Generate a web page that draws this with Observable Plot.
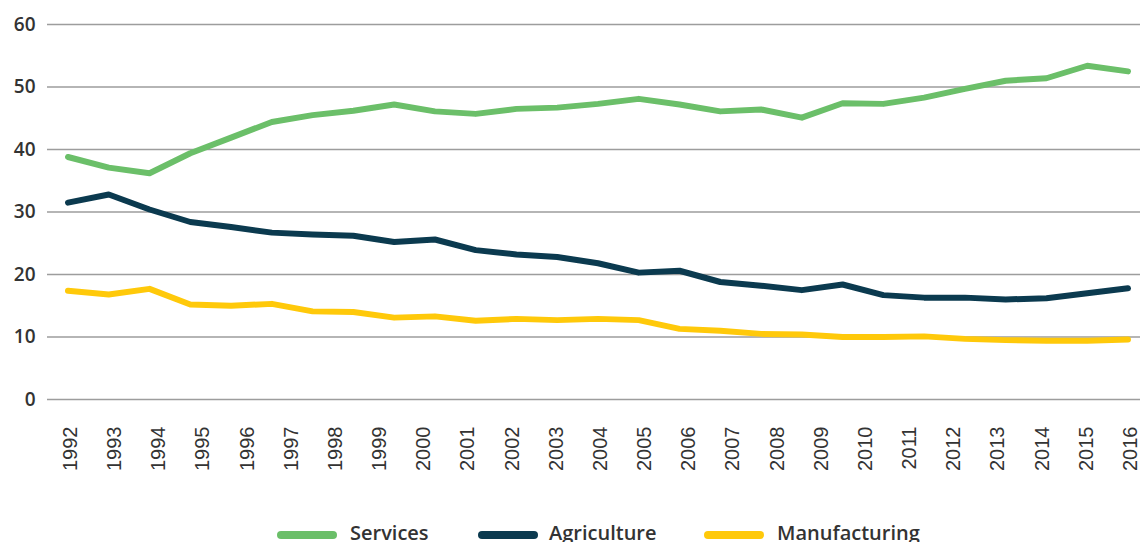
<!DOCTYPE html>
<html>
<head>
<meta charset="utf-8">
<script src="https://cdn.jsdelivr.net/npm/d3@7"></script>
<script src="https://cdn.jsdelivr.net/npm/@observablehq/plot@0.6"></script>
<style>
  html, body { margin: 0; padding: 0; background: #fff; }
  #chart { position: relative; width: 1140px; height: 542px; overflow: hidden; }
  #chart svg { position: absolute; left: 0; top: 0; }
  .sw { position: absolute; top: 531px; width: 60px; height: 8px; border-radius: 4px; }
  .lt { position: absolute; top: 523px; height: 20px; line-height: 20px; white-space: nowrap;
        font-family: "Open Sans", sans-serif; font-weight: 600; font-size: 20px; color: #333; }
</style>
</head>
<body>
<div id="chart"></div>
<script>
// Tick labels on the x axis (years)
const years = [1992, 1993, 1994, 1995, 1996, 1997, 1998, 1999, 2000, 2001, 2002, 2003, 2004,
               2005, 2006, 2007, 2008, 2009, 2010, 2011, 2012, 2013, 2014, 2015, 2016];
// y-axis ticks
const yTicks = [0, 10, 20, 30, 40, 50, 60];

// Series as drawn in the reference (27 evenly spaced points across the axis span)
const services = [38.8, 37.1, 36.2, 39.4, 41.9, 44.4, 45.5, 46.2, 47.2, 46.1, 45.7, 46.5, 46.7, 47.3,
                  48.1, 47.2, 46.1, 46.4, 45.1, 47.4, 47.3, 48.3, 49.7, 51.0, 51.4, 53.4, 52.5];
const agriculture = [31.5, 32.8, 30.4, 28.4, 27.6, 26.7, 26.4, 26.2, 25.2, 25.6, 23.9, 23.2, 22.8, 21.8,
                     20.3, 20.6, 18.8, 18.2, 17.5, 18.4, 16.7, 16.3, 16.3, 16.0, 16.2, 17.0, 17.8];
const manufacturing = [17.4, 16.8, 17.7, 15.2, 15.0, 15.3, 14.1, 14.0, 13.1, 13.3, 12.6, 12.9, 12.7, 12.9,
                       12.7, 11.3, 11.0, 10.5, 10.4, 10.0, 10.0, 10.1, 9.7, 9.5, 9.4, 9.4, 9.6];

const seriesNames = ["Services", "Agriculture", "Manufacturing"];
const seriesColors = ["#6bbf69", "#0b3a4f", "#ffc90a"];
const seriesValues = [services, agriculture, manufacturing];

// Build long table: points spread evenly over the year span
const first = years[0], last = years[years.length - 1];
const rows = [];
seriesNames.forEach((name, s) => {
  const vals = seriesValues[s];
  vals.forEach((v, i) => {
    rows.push({series: name, x: first + i * (last - first) / (vals.length - 1), value: v});
  });
});

const plot = Plot.plot({
  width: 1140,
  height: 490,
  marginTop: 24,
  marginBottom: 91,
  marginLeft: 47,
  marginRight: 0,
  style: {fontFamily: "'Open Sans', sans-serif", background: "transparent", overflow: "visible"},
  x: {domain: [first, last], insetLeft: 20.5, insetRight: 12.5},
  y: {domain: [0, 60]},
  color: {domain: seriesNames, range: seriesColors},
  marks: [
    Plot.ruleY(yTicks, {stroke: "#9d9d9d", strokeWidth: 1.3}),
    Plot.axisY({ticks: yTicks, tickSize: 0, tickPadding: 12, fontSize: 19, fontWeight: 600,
                color: "#333", label: null}),
    Plot.axisX({ticks: years, tickFormat: d => String(d), tickRotate: -90, tickSize: 0, tickPadding: 27,
                dx: 2.5, fontFamily: "'Liberation Sans', Arial, sans-serif", fontSize: 20, color: "#333", label: null}),
    Plot.line(rows, {x: "x", y: "value", z: "series", stroke: "series", strokeWidth: 6,
                     strokeLinecap: "round", strokeLinejoin: "round"})
  ]
});

const chart = document.getElementById("chart");
chart.appendChild(plot);

// Legend below the plot
const legendSwatchX = [277, 478, 704];
const legendTextX = [350, 549, 777];
seriesNames.forEach((name, i) => {
  const sw = document.createElement("div");
  sw.className = "sw";
  sw.style.left = legendSwatchX[i] + "px";
  sw.style.background = seriesColors[i];
  chart.appendChild(sw);
  const lt = document.createElement("div");
  lt.className = "lt";
  lt.style.left = legendTextX[i] + "px";
  lt.textContent = name;
  chart.appendChild(lt);
});
</script>
</body>
</html>
